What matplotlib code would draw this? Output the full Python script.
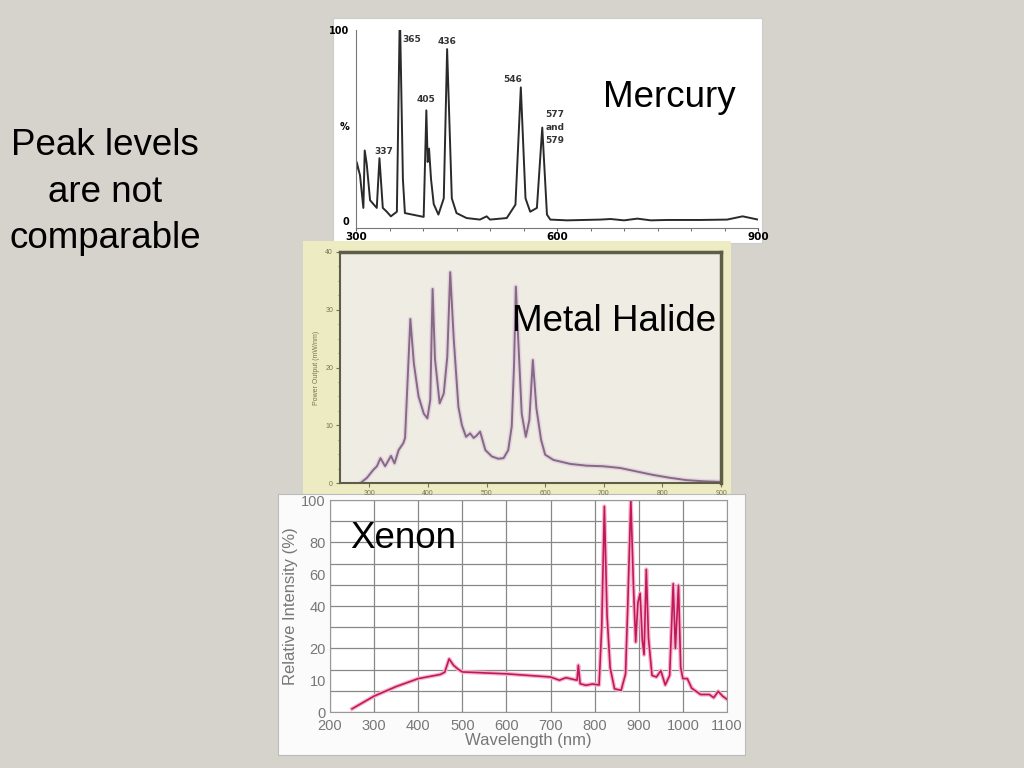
import numpy as np
import matplotlib.pyplot as plt
from matplotlib.patches import Rectangle

plt.rcParams['font.family'] = ['Liberation Sans', 'DejaVu Sans']

# --- Mercury spectrum (%, 300-900 nm)
hg_nm = [300, 301, 306, 311, 313, 316, 321, 331, 335, 340, 346, 352, 361, 365, 366,
         370, 373, 401, 405, 407, 409, 412, 416, 423, 431, 436, 443, 450, 465, 485,
         495, 500, 525, 538, 546, 553, 560, 570, 578, 585, 590, 615, 665, 680, 700,
         720, 740, 764, 814, 854, 877, 900]
hg_val = [25, 31, 24, 7, 37, 30, 11, 7, 33, 7, 5, 2.6, 5, 100, 100,
          22, 4.3, 2.3, 58, 31, 38, 22, 9, 3.5, 12, 90, 12, 4.3, 1.7, 0.9,
          2.6, 0.9, 1.7, 8.7, 70, 12, 5, 7, 49, 3.5, 0.9, 0.5, 0.9, 1.2, 0.5,
          1.4, 0.5, 0.7, 0.7, 0.9, 2.6, 0.9]
hg_peaks = ['337', '365', '405', '436', '546', '577\nand\n579']
hg_peak_x = [342, 383, 405, 436, 534, 597]
hg_peak_y = [36.5, 95, 63.5, 94, 74, 49]

# --- Metal halide spectrum (mW/nm)
mh_nm = [285, 296, 307, 313, 319, 327, 337, 343, 350, 358, 361, 365, 370, 376, 384,
         393, 399, 404, 408, 412, 420, 427, 433, 438, 444, 452, 458, 465, 472, 478,
         483, 489, 498, 509, 520, 529, 537, 543, 547, 550, 554, 560, 567, 573, 579,
         585, 593, 600, 614, 643, 671, 699, 728, 756, 784, 813, 841, 870, 898]
mh_val = [0, 0.9, 2.3, 2.9, 4.3, 2.9, 4.7, 3.4, 5.7, 6.9, 7.8, 17, 28.4, 20.7, 15,
          12, 11.2, 14.4, 33.6, 21.5, 13.8, 15.5, 21.8, 36.5, 25, 13.2, 10, 8, 8.6, 7.8,
          8.2, 8.9, 5.7, 4.6, 4.2, 4.3, 5.7, 9.8, 20.7, 34, 25, 12, 8, 10.9, 21.3,
          13, 7.5, 4.9, 4, 3.3, 3, 2.9, 2.6, 2, 1.4, 0.9, 0.5, 0.3, 0.2]

# --- Xenon spectrum (relative %, 250-1100 nm)
xe_nm = [250, 300, 350, 400, 450, 460, 470, 480, 490, 500, 600, 700, 720, 735, 750,
         760, 763, 767, 780, 795, 810, 816, 822, 828, 835, 845, 860, 870, 875, 882,
         888, 893, 898, 903, 908, 912, 917, 922, 930, 940, 950, 960, 970, 978, 983,
         990, 995, 1000, 1010, 1020, 1040, 1060, 1070, 1080, 1090, 1100]
xe_val = [1, 5, 8, 10.5, 11.8, 12.5, 16.7, 14.7, 13.5, 12.6, 12, 11, 10, 10.8, 10.3,
          10, 14.7, 8.9, 8.4, 8.8, 8.5, 30, 97, 36, 14, 7.3, 6.8, 12, 40, 100,
          52, 23, 42, 48, 24, 18, 63, 25, 11.5, 11, 13, 8.5, 11.5, 54, 20,
          53, 14, 10.5, 10.5, 7.5, 5.5, 5.5, 4.5, 6.5, 5, 4]
xe_tick_vals = [0, 10, 20, 40, 60, 80, 100]
xe_tick_pos = [0, 1.5, 3, 5, 6.5, 8, 10]   # uneven printed scale of the original


def box(x0, y0, x1, y1):
    # pixel box (top-left origin) -> figure fraction rect
    return [x0 / 1024, 1 - y1 / 768, (x1 - x0) / 1024, (y1 - y0) / 768]


def panel(x0, y0, x1, y1, fc, ec='none'):
    fig.patches.append(Rectangle((x0 / 1024, 1 - y1 / 768), (x1 - x0) / 1024,
                                 (y1 - y0) / 768, transform=fig.transFigure,
                                 facecolor=fc, edgecolor=ec, lw=0.8, zorder=-1))


fig = plt.figure(figsize=(10.24, 7.68), dpi=100)
fig.patch.set_facecolor('#d6d3cc')

panel(333, 18, 762, 243, 'white', '#cccccc')
panel(303, 241, 731, 494, '#ecebc2')
panel(278, 494, 745, 755, '#fbfbfb', '#bbbbbb')

# ---------------- Mercury
ax1 = fig.add_axes(box(356, 30, 758, 228))
ax1.plot(hg_nm, hg_val, color='#2a2a2a', lw=1.4)
ax1.set_xlim(300, 900)
ax1.set_ylim(-3.5, 100)
ax1.set_facecolor('white')
for s in ['top', 'right']:
    ax1.spines[s].set_visible(False)
ax1.spines['left'].set_color('#777777')
ax1.spines['bottom'].set_color('#777777')
ax1.set_xticks([300, 600, 900])
ax1.set_xticks(np.arange(300, 901, 50), minor=True)
ax1.set_xticklabels(['300', '600', '900'], fontsize=7.5, fontweight='bold',
                    family='DejaVu Sans')
ax1.get_xticklabels()[0].set_x(310)
ax1.tick_params(axis='x', which='both', length=2, color='#555555', pad=1)
ax1.set_yticks([0, 50, 100])
ax1.set_yticklabels(['0', '%', '100'], fontsize=7, fontweight='bold',
                    family='DejaVu Sans')
ax1.tick_params(axis='y', length=0, pad=5)
for lab, px, py in zip(hg_peaks, hg_peak_x, hg_peak_y):
    ax1.text(px, py, lab, fontsize=6.5, ha='center', va='center',
             family='DejaVu Sans', fontweight='bold', color='#333333',
             linespacing=1.6)

# ---------------- Metal Halide
ax2 = fig.add_axes(box(340, 252, 721, 483))
ax2.plot(mh_nm, mh_val, color='#e4d4e0', lw=3.5)
ax2.plot(mh_nm, mh_val, color='#866a84', lw=1.4)
ax2.set_xlim(250, 900)
ax2.set_ylim(0, 40)
ax2.set_facecolor('#efede3')
for s in ['top', 'right']:
    ax2.spines[s].set_linewidth(2.5)
for s in ['left', 'bottom']:
    ax2.spines[s].set_linewidth(1.5)
for s in ax2.spines.values():
    s.set_color('#5e5d48')
ax2.set_xticks(np.arange(300, 901, 100))
ax2.set_yticks(np.arange(0, 41, 10))
ax2.set_yticks(np.arange(0, 41, 2.5), minor=True)
ax2.tick_params(labelsize=5, colors='#77764f', length=3, width=0.8, pad=2)
ax2.tick_params(which='minor', length=1.5, color='#77764f')
ax2.set_ylabel('Power Output (mW/nm)', fontsize=5, color='#77764f', labelpad=4)

# ---------------- Xenon
def xe_fwd(v):
    return np.interp(v, xe_tick_vals, xe_tick_pos)


def xe_inv(u):
    return np.interp(u, xe_tick_pos, xe_tick_vals)


ax3 = fig.add_axes(box(330, 500, 727, 712))
ax3.set_yscale('function', functions=(xe_fwd, xe_inv))
ax3.plot(xe_nm, xe_val, color='#f4b6cc', lw=3.0)
ax3.plot(xe_nm, xe_val, color='#c2185b', lw=1.2)
ax3.set_xlim(200, 1100)
ax3.set_ylim(0, 100)
ax3.set_facecolor('white')
ax3.set_xticks(np.arange(200, 1101, 100))
ax3.set_yticks(xe_tick_vals)
ax3.yaxis.remove_overlapping_locs = False
ax3.set_yticks(xe_inv(np.arange(0, 11)), minor=True)
ax3.grid(axis='x', which='major', color='#888888', lw=0.9)
ax3.grid(axis='y', which='minor', color='#888888', lw=0.9)
ax3.tick_params(which='both', length=0, labelsize=10.5, colors='#777777', pad=3)
ax3.tick_params(axis='x', pad=5)
for s in ax3.spines.values():
    s.set_color('#999999')
ax3.set_xlabel('Wavelength (nm)', fontsize=12, color='#777777', labelpad=0)
ax3.set_ylabel('Relative Intensity (%)', fontsize=12, color='#777777', labelpad=2)

# ---------------- slide text
fs = 26.5
fig.text(105 / 1024, 1 - 155 / 768, 'Peak levels', fontsize=fs, ha='center', va='baseline')
fig.text(105 / 1024, 1 - 202 / 768, 'are not', fontsize=fs, ha='center', va='baseline')
fig.text(105 / 1024, 1 - 248 / 768, 'comparable', fontsize=fs, ha='center', va='baseline')
fig.text(603 / 1024, 1 - 107 / 768, 'Mercury', fontsize=fs, ha='left', va='baseline')
fig.text(512 / 1024, 1 - 331 / 768, 'Metal Halide', fontsize=fs, ha='left', va='baseline')
fig.text(350 / 1024, 1 - 548 / 768, 'Xenon', fontsize=fs, ha='left', va='baseline')

fig.savefig('out.png', dpi=100, facecolor=fig.get_facecolor())
